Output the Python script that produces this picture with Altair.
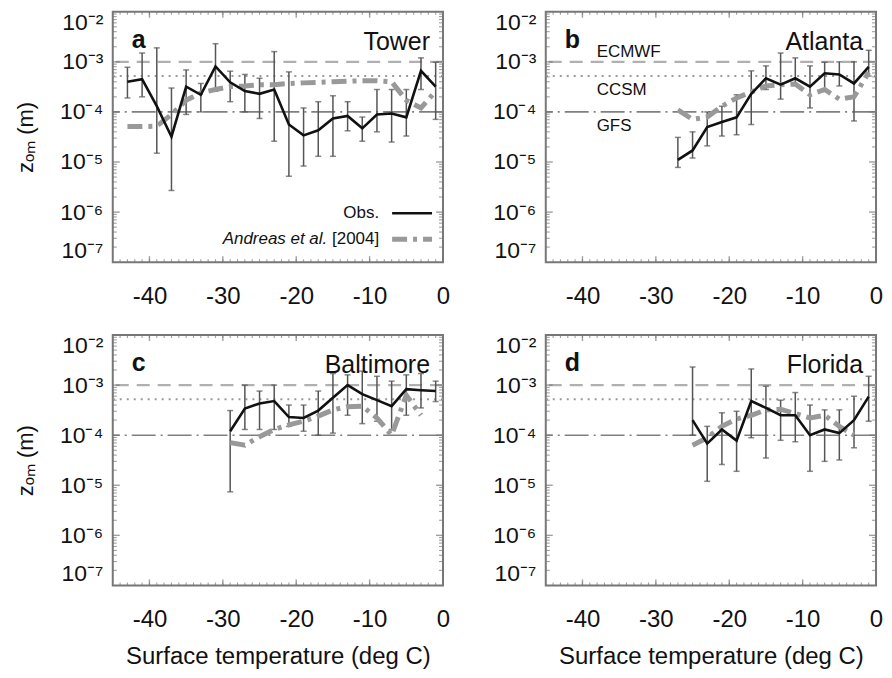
import altair as alt
import pandas as pd

FONT = "Liberation Sans"

# ---------------- data ----------------
letters = ["a", "b", "c", "d"]
sites = ["Tower", "Atlanta", "Baltimore", "Florida"]
model_names = ["ECMWF", "CCSM", "GFS"]
model_z0 = [1.0e-3, 5.2e-4, 1.0e-4]
legend_names = ["Obs.", "Andreas et al.", "[2004]"]
x_ticks = [-40, -30, -20, -10, 0]
y_ticks = [1e-7, 1e-6, 1e-5, 1e-4, 1e-3, 1e-2]
# frame tick decoration
x_major_marks = [-40, -30, -20, -10]
x_minor_marks = list(range(-44, 0))
y_minor_marks = [m * d for d in [1e-7, 1e-6, 1e-5, 1e-4, 1e-3] for m in range(2, 10)]

# a: Tower
a_T = [-43, -41, -39, -37, -35, -33, -31, -29, -27, -25, -23, -21, -19, -17, -15, -13, -11, -9, -7, -5, -3, -1]
a_obs = [4.0e-4, 4.5e-4, 1.3e-4, 3.2e-5, 3.2e-4, 2.2e-4, 8.1e-4, 3.9e-4, 2.6e-4, 2.3e-4, 2.8e-4,
         5.6e-5, 3.4e-5, 4.3e-5, 7.4e-5, 8.3e-5, 4.7e-5, 8.9e-5, 9.3e-5, 7.8e-5, 6.6e-4, 3.2e-4]
a_hi = [7.8e-4, 1.5e-3, 1.9e-3, 3.0e-4, 6.9e-4, 3.7e-4, 2.3e-3, 6.5e-4, 5.6e-4, 4.7e-4, 1.6e-3,
        6.3e-4, 1.2e-4, 1.6e-4, 2.1e-4, 1.6e-4, 7.9e-5, 2.8e-4, 2.8e-4, 2.8e-4, 1.2e-3, 9.8e-4]
a_lo = [1.9e-4, 2.0e-4, 1.5e-5, 2.7e-6, 8.9e-5, 1.0e-4, 2.6e-4, 1.6e-4, 1.0e-4, 7.4e-5, 2.6e-5,
        5.2e-6, 8.3e-6, 1.3e-5, 1.3e-5, 4.2e-5, 2.6e-5, 4.0e-5, 2.5e-5, 3.3e-5, 2.8e-4, 7.1e-5]
a_and_T = a_T
a_and = [5.1e-5, 5.1e-5, 5.2e-5, 8.9e-5, 1.7e-4, 2.4e-4, 2.8e-4, 3.2e-4, 3.3e-4, 3.5e-4, 3.5e-4,
         3.7e-4, 3.8e-4, 3.9e-4, 4.0e-4, 4.1e-4, 4.2e-4, 4.2e-4, 4.0e-4, 1.7e-4, 1.2e-4, 2.6e-4]

# b: Atlanta
b_T = [-27, -25, -23, -21, -19, -17, -15, -13, -11, -9, -7, -5, -3, -1]
b_obs = [1.1e-5, 1.7e-5, 5.0e-5, 6.3e-5, 7.8e-5, 2.3e-4, 4.7e-4, 3.5e-4, 4.7e-4, 3.2e-4, 5.9e-4, 5.6e-4, 3.7e-4, 7.9e-4]
b_hi = [3.1e-5, 4.0e-5, 1.0e-4, 1.3e-4, 2.2e-4, 6.6e-4, 8.3e-4, 1.5e-3, 1.2e-3, 8.3e-4, 9.8e-4, 1.0e-3, 1.0e-3, 1.7e-3]
b_lo = [7.8e-6, 1.2e-5, 2.1e-5, 3.3e-5, 3.5e-5, 5.6e-5, 2.8e-4, 1.8e-4, 3.5e-4, 1.2e-4, 2.6e-4, 3.3e-4, 6.6e-5, 5.2e-4]
b_and_T = b_T
b_and = [1.1e-4, 7.1e-5, 7.9e-5, 1.3e-4, 1.9e-4, 2.5e-4, 3.3e-4, 3.5e-4, 3.6e-4, 2.2e-4, 2.8e-4, 1.8e-4, 2.0e-4, 6.2e-4]

# c: Baltimore
c_T = [-29, -27, -25, -23, -21, -19, -17, -15, -13, -11, -9, -7, -5, -3, -1]
c_obs = [1.2e-4, 3.4e-4, 4.3e-4, 4.8e-4, 2.3e-4, 2.2e-4, 3.1e-4, 5.6e-4, 1.0e-3, 6.6e-4, 5.0e-4, 3.8e-4, 8.3e-4, 7.9e-4, 7.6e-4]
c_hi = [3.1e-4, 1.0e-3, 7.6e-4, 1.0e-3, 4.0e-4, 4.0e-4, 7.6e-4, 1.7e-3, 1.6e-3, 1.9e-3, 1.5e-3, 1.2e-3, 1.6e-3, 1.7e-3, 1.2e-3]
c_lo = [7.4e-6, 1.3e-4, 1.3e-4, 1.3e-4, 1.5e-4, 1.2e-4, 1.0e-4, 1.1e-4, 2.5e-4, 1.7e-4, 1.9e-4, 1.3e-4, 2.5e-4, 3.5e-4, 4.7e-4]
c_and_T = [-29, -27, -25, -23, -21, -19, -17, -15, -13, -11, -9, -7, -5, -3]
c_and = [7.1e-5, 6.3e-5, 9.3e-5, 1.3e-4, 1.6e-4, 1.9e-4, 2.4e-4, 3.2e-4, 3.7e-4, 3.8e-4, 2.2e-4, 1.0e-4, 6.3e-4, 2.5e-4]

# d: Florida
d_T = [-25, -23, -21, -19, -17, -15, -13, -11, -9, -7, -5, -3, -1]
d_obs = [2.0e-4, 6.8e-5, 1.3e-4, 7.8e-5, 4.8e-4, 3.5e-4, 2.5e-4, 2.5e-4, 1.0e-4, 1.3e-4, 1.1e-4, 2.0e-4, 5.9e-4]
d_hi = [2.3e-3, 1.5e-4, 2.8e-4, 3.0e-4, 2.1e-3, 9.5e-4, 5.0e-4, 7.1e-4, 4.0e-4, 3.2e-4, 3.2e-4, 6.0e-4, 1.5e-3]
d_lo = [1.0e-4, 1.2e-5, 2.6e-5, 1.9e-5, 8.9e-5, 3.5e-5, 7.9e-5, 7.4e-5, 1.9e-5, 3.0e-5, 3.2e-5, 5.6e-5, 1.9e-4]
d_and_T = [-25, -23, -21, -19, -17, -15, -13, -11, -9, -7, -5, -3]
d_and = [6.3e-5, 8.9e-5, 1.5e-4, 2.1e-4, 2.5e-4, 3.2e-4, 3.3e-4, 2.7e-4, 2.2e-4, 2.5e-4, 1.5e-4, 1.0e-4]

# ---------------- styling ----------------
W, H = 331, 251
OBS_COLOR = "#111111"
AND_COLOR = "#999999"
ERR_COLOR = "#555555"
FRAME_COLOR = "#777777"
AND_DASH = [15, 6, 4, 6]

y_label_expr = (
    "datum.value < 5e-7 ? '10⁻⁷' : datum.value < 5e-6 ? '10⁻⁶' : "
    "datum.value < 5e-5 ? '10⁻⁵' : datum.value < 5e-4 ? '10⁻⁴' : "
    "datum.value < 5e-3 ? '10⁻³' : '10⁻²'"
)
x_label_expr = "datum.value < 0 ? '-' + abs(datum.value) : '' + datum.value"


def xenc(field, show_title):
    return alt.X(
        field,
        type="quantitative",
        scale=alt.Scale(domain=[-45, 0], nice=False, zero=False),
        axis=alt.Axis(
            values=x_ticks, labelExpr=x_label_expr, labelFontSize=24, labelPadding=22, ticks=False,
            domain=False, grid=False, labelFlush=False,
            title="Surface temperature (deg C)" if show_title else None,
            titleFontSize=24, titleFontWeight="normal", titlePadding=13,
        ),
    )


def yenc(field, show_title):
    return alt.Y(
        field,
        type="quantitative",
        scale=alt.Scale(type="log", domain=[1e-7, 1e-2], nice=False),
        axis=alt.Axis(
            values=y_ticks, labelExpr=y_label_expr, labelFontSize=23, labelPadding=10,
            ticks=False, domain=False, grid=False, labelFlush=True,
            title="zₒₘ (m)" if show_title else None,
            titleFontSize=22, titleFontWeight="normal", titlePadding=22,
        ),
    )


def text_at(txt, px, py, align="left", size=25, weight="normal", style="normal"):
    return alt.Chart(pd.DataFrame({"t": [txt]})).mark_text(
        align=align, baseline="middle", fontSize=size, font=FONT,
        fontWeight=weight, fontStyle=style, color="#111111",
    ).encode(x=alt.value(px), y=alt.value(py), text="t:N")


def frame_ticks(xt, yt):
    ymaj = pd.DataFrame({"v": y_ticks[1:-1]})
    ymin = pd.DataFrame({"v": y_minor_marks})
    xmaj = pd.DataFrame({"v": x_major_marks})
    xmin = pd.DataFrame({"v": x_minor_marks})
    out = []
    for px, size in [(3.5, 7)]:
        out.append(alt.Chart(ymaj).mark_tick(orient="horizontal", size=size, thickness=1.4, color=FRAME_COLOR)
                   .encode(y=yenc("v", yt), x=alt.value(px)))
        out.append(alt.Chart(ymaj).mark_tick(orient="horizontal", size=size, thickness=1.4, color=FRAME_COLOR)
                   .encode(y=yenc("v", yt), x=alt.value(W - px)))
    out.append(alt.Chart(ymin).mark_tick(orient="horizontal", size=4, thickness=1.1, color=FRAME_COLOR)
               .encode(y=yenc("v", yt), x=alt.value(2)))
    out.append(alt.Chart(ymin).mark_tick(orient="horizontal", size=4, thickness=1.1, color=FRAME_COLOR)
               .encode(y=yenc("v", yt), x=alt.value(W - 2)))
    out.append(alt.Chart(xmaj).mark_tick(orient="vertical", size=6, thickness=1.4, color=FRAME_COLOR)
               .encode(x=xenc("v", xt), y=alt.value(H - 3)))
    out.append(alt.Chart(xmaj).mark_tick(orient="vertical", size=6, thickness=1.4, color=FRAME_COLOR)
               .encode(x=xenc("v", xt), y=alt.value(3)))
    out.append(alt.Chart(xmin).mark_tick(orient="vertical", size=3, thickness=1.1, color=FRAME_COLOR)
               .encode(x=xenc("v", xt), y=alt.value(H - 1.5)))
    out.append(alt.Chart(xmin).mark_tick(orient="vertical", size=3, thickness=1.1, color=FRAME_COLOR)
               .encode(x=xenc("v", xt), y=alt.value(1.5)))
    return out


def panel(i, T, obs, hi, lo, aT, andr, ytitle, xtitle, legend=False, models=False):
    obs_df = pd.DataFrame({"T": T, "z": obs, "hi": hi, "lo": lo})
    and_df = pd.DataFrame({"T": aT, "z": andr})
    ref_df = pd.DataFrame({"model": model_names, "z": model_z0})

    refs = alt.Chart(ref_df).mark_rule().encode(
        y=yenc("z", ytitle),
        stroke=alt.Stroke("model:N", scale=alt.Scale(domain=model_names, range=["#b0b0b0", "#9a9a9a", "#808080"]), legend=None),
        strokeDash=alt.StrokeDash("model:N", scale=alt.Scale(domain=model_names, range=[[13, 8], [2, 5], [24, 5, 2, 5]]), legend=None),
        strokeWidth=alt.StrokeWidth("model:N", scale=alt.Scale(domain=model_names, range=[2.2, 1.6, 1.4]), legend=None),
    )
    err = alt.Chart(obs_df).mark_rule(color=ERR_COLOR, strokeWidth=1.5).encode(
        x=xenc("T", xtitle), y=yenc("lo", ytitle), y2="hi:Q")
    cap_lo = alt.Chart(obs_df).mark_tick(color=ERR_COLOR, orient="horizontal", size=6, thickness=1.5).encode(
        x=xenc("T", xtitle), y=yenc("lo", ytitle))
    cap_hi = alt.Chart(obs_df).mark_tick(color=ERR_COLOR, orient="horizontal", size=6, thickness=1.5).encode(
        x=xenc("T", xtitle), y=yenc("hi", ytitle))
    and_line = alt.Chart(and_df).mark_line(color=AND_COLOR, strokeWidth=5, strokeDash=AND_DASH).encode(
        x=xenc("T", xtitle), y=yenc("z", ytitle))
    obs_line = alt.Chart(obs_df).mark_line(color=OBS_COLOR, strokeWidth=2.6).encode(
        x=xenc("T", xtitle), y=yenc("z", ytitle))

    layers = [refs] + frame_ticks(xtitle, ytitle) + [err, cap_lo, cap_hi, and_line, obs_line,
              text_at(letters[i], 19, 28, "left", 25, "bold"),
              text_at(sites[i], 318, 30, "right", 25)]
    if models:
        layers += [text_at(model_names[0], 51, 40, "left", 17),
                   text_at(model_names[1], 51, 78, "left", 17),
                   text_at(model_names[2], 51, 115, "left", 17)]
    if legend:
        one = pd.DataFrame({"k": [0]})
        layers += [
            text_at(legend_names[0], 267, 202, "right", 17),
            text_at(legend_names[2], 267, 228, "right", 17),
            text_at(legend_names[1], 215, 228, "right", 17, "normal", "italic"),
            alt.Chart(one).mark_rule(color=OBS_COLOR, strokeWidth=2.6).encode(
                x=alt.value(280), x2=alt.value(320), y=alt.value(202)),
            alt.Chart(one).mark_rule(color=AND_COLOR, strokeWidth=5, strokeDash=AND_DASH).encode(
                x=alt.value(280), x2=alt.value(320), y=alt.value(228)),
        ]
    return alt.layer(*layers).properties(width=W, height=H)


pa = panel(0, a_T, a_obs, a_hi, a_lo, a_and_T, a_and, True, False, legend=True)
pb = panel(1, b_T, b_obs, b_hi, b_lo, b_and_T, b_and, False, False, models=True)
pc = panel(2, c_T, c_obs, c_hi, c_lo, c_and_T, c_and, True, True)
pd_ = panel(3, d_T, d_obs, d_hi, d_lo, d_and_T, d_and, False, True)

chart = alt.concat(pa, pb, pc, pd_, columns=2, spacing={"row": 73, "column": 103}, bounds="flush").properties(
    padding={"left": 5, "top": 2, "right": 0, "bottom": 0}
).configure_view(stroke=FRAME_COLOR, strokeWidth=2).configure_axis(
    labelFont=FONT, titleFont=FONT, labelColor="#111111", titleColor="#111111"
)

chart.save("out.html", embed_options={"renderer": "svg", "actions": False})
